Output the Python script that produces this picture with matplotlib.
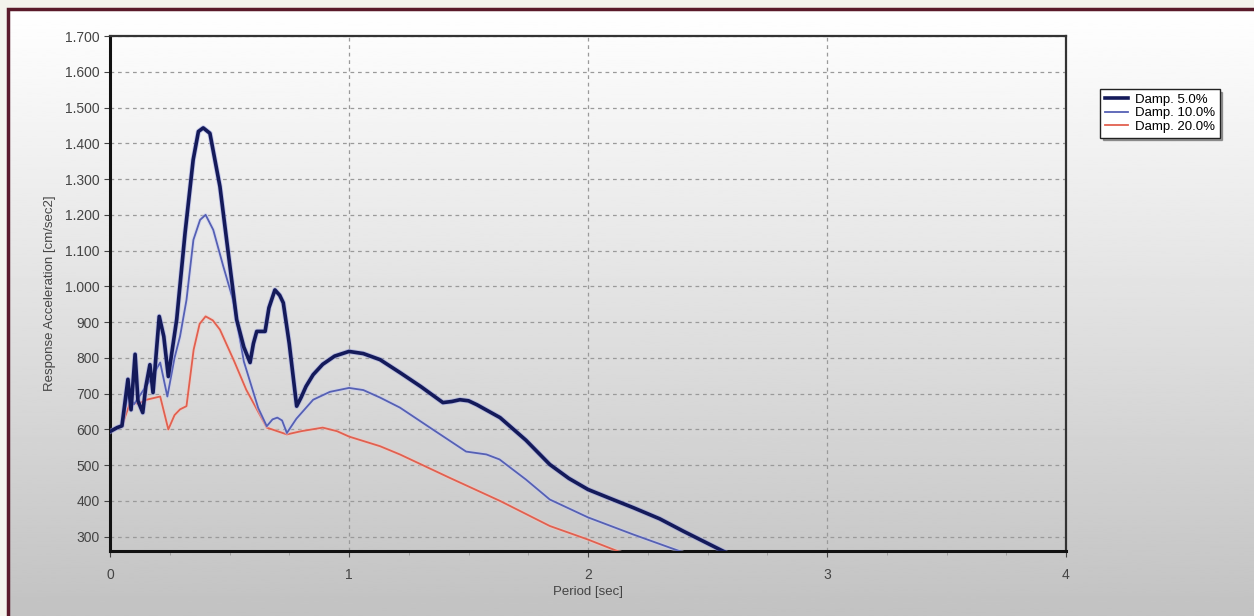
import numpy as np
import matplotlib.pyplot as plt
import matplotlib.patheffects as pe
from matplotlib.ticker import FuncFormatter, MultipleLocator
from matplotlib.patches import Rectangle

plt.rcParams['font.family'] = ['Liberation Sans', 'DejaVu Sans']

# Значения (период, ускорение)
period_5 = [0.0, 0.03, 0.05, 0.075, 0.088, 0.105, 0.117, 0.137, 0.15, 0.167, 0.18, 0.206,
            0.225, 0.244, 0.279, 0.314, 0.348, 0.37, 0.39, 0.418, 0.46, 0.502, 0.53, 0.56,
            0.586, 0.6, 0.614, 0.649, 0.665, 0.69, 0.71, 0.725, 0.75, 0.781, 0.8, 0.82,
            0.85, 0.89, 0.94, 1.0, 1.06, 1.13, 1.213, 1.3, 1.393, 1.43, 1.464, 1.5,
            1.535, 1.632, 1.74, 1.84, 1.92, 2.0, 2.1, 2.19, 2.3, 2.4, 2.57]
accel_5 = [594, 605, 610, 740, 655, 810, 680, 647, 720, 781, 703, 916,
           860, 748, 907, 1149, 1354, 1433, 1443, 1428, 1279, 1055, 907, 830,
           787, 840, 874, 874, 940, 990, 975, 954, 840, 665, 690, 720,
           753, 782, 805, 818, 812, 795, 759, 720, 675, 678, 683, 680,
           669, 633, 570, 502, 463, 432, 405, 381, 350, 315, 258]

period_10 = [0.0, 0.03, 0.05, 0.075, 0.1, 0.13, 0.16, 0.21, 0.24, 0.27, 0.293, 0.32,
             0.349, 0.377, 0.4, 0.432, 0.474, 0.515, 0.56, 0.62, 0.656, 0.68, 0.7, 0.72,
             0.74, 0.78, 0.85, 0.92, 1.0, 1.06, 1.13, 1.213, 1.35, 1.49, 1.575, 1.63,
             1.74, 1.84, 2.0, 2.19, 2.39]
accel_10 = [594, 605, 612, 700, 670, 700, 730, 787, 692, 800, 860, 962,
            1130, 1186, 1200, 1158, 1056, 962, 790, 660, 609, 628, 633, 625,
            590, 630, 683, 705, 716, 710, 689, 661, 600, 538, 530, 516,
            460, 404, 354, 306, 258]

period_20 = [0.0, 0.03, 0.05, 0.084, 0.12, 0.153, 0.21, 0.244, 0.27, 0.293, 0.32, 0.35,
             0.375, 0.4, 0.43, 0.46, 0.52, 0.57, 0.656, 0.7, 0.74, 0.8, 0.89, 0.95,
             1.0, 1.13, 1.213, 1.42, 1.632, 1.84, 2.0, 2.13]
accel_20 = [594, 605, 610, 675, 672, 683, 692, 600, 640, 656, 665, 823,
            895, 916, 905, 879, 790, 711, 605, 595, 586, 595, 605, 595,
            580, 553, 530, 465, 400, 330, 292, 258]

labels = ['Damp. 5.0%', 'Damp. 10.0%', 'Damp. 20.0%']

fig = plt.figure(figsize=(12.54, 6.16), dpi=100)
fig.patch.set_facecolor('#f4f3ec')

# Фон с градиентом и рамкой
bg = fig.add_axes([8 / 1254, 0, 1 - 8 / 1254, 1 - 9 / 616])
grad = np.linspace(1, 0, 256).reshape(-1, 1)
bg.imshow(grad, aspect='auto', cmap='gray', vmin=-3.2, vmax=1, extent=[0, 1, 0, 1])
bg.set_xlim(0, 1)
bg.set_ylim(0, 1)
bg.axis('off')
bg.add_patch(Rectangle((0, -0.01), 1.05, 1.01, fill=False, edgecolor='#5a1a2a',
                       linewidth=2.5, transform=bg.transAxes, clip_on=False))

ax = fig.add_axes([110 / 1254, (616 - 551) / 616, (1066 - 110) / 1254, (551 - 36) / 616])
ax.set_facecolor('none')

ax.plot(period_20, accel_20, color='#e2604f', linewidth=1.3, label=labels[2], zorder=3,
        path_effects=[pe.Stroke(linewidth=2.8, foreground='#f4c8c0', alpha=0.5), pe.Normal()])
ax.plot(period_10, accel_10, color='#5560b4', linewidth=1.3, label=labels[1], zorder=4,
        path_effects=[pe.Stroke(linewidth=2.8, foreground='#c8ccf0', alpha=0.5), pe.Normal()])
ax.plot(period_5, accel_5, color='#141a5a', linewidth=2.6, label=labels[0], zorder=5,
        path_effects=[pe.Stroke(linewidth=3.8, foreground='#8890e0', alpha=0.45), pe.Normal()])

ax.set_xlim(0, 4)
ax.set_ylim(260, 1700)
ax.set_xticks([0, 1, 2, 3, 4])
ax.xaxis.set_minor_locator(MultipleLocator(0.25))
ax.set_yticks(range(300, 1701, 100))
ax.yaxis.set_major_formatter(FuncFormatter(lambda v, p: f'{int(v):,}'.replace(',', '.')))
ax.tick_params(axis='both', labelsize=10, colors='#444444', length=4, width=0.8)
ax.tick_params(axis='x', which='minor', length=3, color='#999999')
ax.tick_params(axis='x', pad=8)

ax.grid(True, linestyle=(0, (3, 3)), color='#9a9a9a', linewidth=0.9)

for side in ['left', 'bottom']:
    ax.spines[side].set_linewidth(2.2)
    ax.spines[side].set_color('#111111')
for side in ['top', 'right']:
    ax.spines[side].set_linewidth(1.6)
    ax.spines[side].set_color('#333333')
    ax.spines[side].set_linestyle((0, (2, 1)))

ax.set_xlabel('Period [sec]', fontsize=9.5, color='#444444', labelpad=3)
ax.set_ylabel('Response Acceleration [cm/sec2]', fontsize=9.5, color='#444444', labelpad=6)

handles, lbls = ax.get_legend_handles_labels()
leg = fig.legend(handles[::-1], lbls[::-1], loc='upper left',
                 bbox_to_anchor=(1100 / 1254, 1 - 89 / 616), fontsize=9.5,
                 frameon=True, fancybox=False, shadow=True, borderpad=0.35,
                 handlelength=1.8, labelspacing=0.1, handletextpad=0.5,
                 borderaxespad=0)
leg.get_frame().set_edgecolor('#222222')
leg.get_frame().set_linewidth(1.0)
for line in leg.get_lines():
    line.set_path_effects([])

fig.savefig('out.png', dpi=100)
